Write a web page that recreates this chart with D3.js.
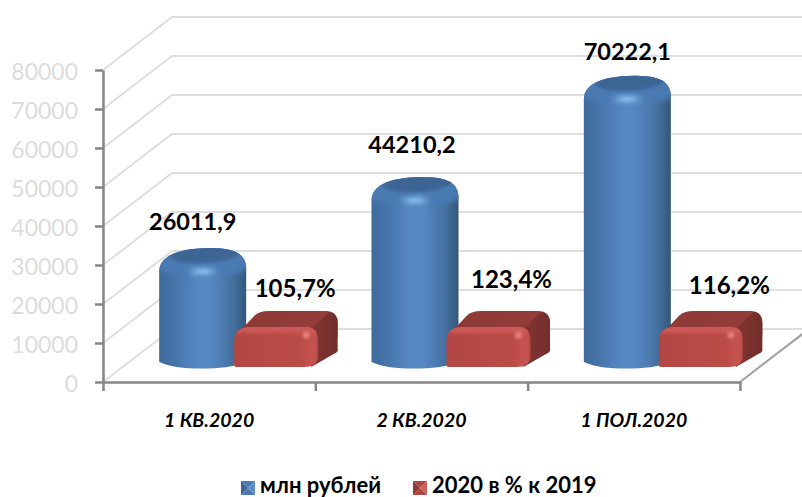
<!DOCTYPE html>
<html><head><meta charset="utf-8">
<script src="https://cdn.jsdelivr.net/npm/d3@7"></script>
<style>
html,body{margin:0;padding:0;background:#fff}
svg{display:block}
text{font-family:Lato,"Open Sans",sans-serif}
.domain{stroke:#868686;stroke-width:2.5px}
.tick line{stroke:#868686;stroke-width:2.5px}
</style></head><body><svg id="c" width="802" height="497"></svg>
<script>
const categories=["1 КВ.2020","2 КВ.2020","1 ПОЛ.2020"];
const rubles=[26011.9,44210.2,70222.1];
const rubleLabels=["26011,9","44210,2","70222,1"];
const percents=[105.7,123.4,116.2];
const percentLabels=["105,7%","123,4%","116,2%"];
const yTicks=[0,10000,20000,30000,40000,50000,60000,70000,80000];
const seriesNames=["млн рублей","2020 в % к 2019"];
// label nudges (manual layout in the original)
const rubleNudge=[[-10,-39],[-3,-45],[0,-36]];
const pctNudge=[[1,-38],[5,-47],[10.5,-41]];

const svg=d3.select("#c");
const W=802,x0=103,x1=740,depthX=69,depthY=-53;
const y=d3.scaleLinear().domain([0,80000]).range([382,70]);
const x=d3.scaleBand().domain(categories).range([x0,x1]);
const xEdges=d3.scaleLinear().domain([0,3]).range([x0,x1]);

const defs=svg.append("defs");
function lin(id,stops,o={x1:0,y1:0,x2:1,y2:0}){
  const g=defs.append("linearGradient").attr("id",id);
  Object.entries(o).forEach(([k,v])=>g.attr(k,v));
  stops.forEach(s=>g.append("stop").attr("offset",s[0]).attr("stop-color",s[1]));
}
lin("cyl",[[0,"#3f6a9c"],[.15,"#4573a8"],[.45,"#5688c4"],[.6,"#5688c4"],[.85,"#44709f"],[1,"#345679"]]);
lin("redF",[[0,"#b24644"],[.8,"#bb4b47"],[.9,"#c4524e"],[.96,"#c4524e"],[1,"#b34744"]]);
lin("redT",[[0,"#8c3936"],[1,"#953e3a"]]);
lin("redS",[[0,"#823532"],[1,"#722e2b"]]);
const b=defs.append("filter").attr("id","b2").attr("x","-30%").attr("y","-30%").attr("width","160%").attr("height","160%");
b.append("feGaussianBlur").attr("stdDeviation",2.5);
const b1=defs.append("filter").attr("id","b1").attr("x","-30%").attr("y","-60%").attr("width","160%").attr("height","220%");
b1.append("feGaussianBlur").attr("stdDeviation",1.6);
const b3=defs.append("filter").attr("id","b3").attr("x","-60%").attr("y","-150%").attr("width","220%").attr("height","400%");
b3.append("feGaussianBlur").attr("stdDeviation",3);

// walls: gridlines
const grid=svg.append("g");
yTicks.filter(d=>d>0).concat([0]).forEach(d=>{
  grid.append("path").attr("fill","none").attr("stroke","#dedede").attr("stroke-width",2)
   .attr("d",d3.line()([[x0,y(d)],[x0+depthX,y(d)+depthY],[W,y(d)+depthY]]));
});
svg.append("path").attr("fill","none").attr("stroke","#a0a0a0").attr("stroke-width",2)
  .attr("d",d3.line()([[x1,y(0)],[x1+depthX,y(0)+depthY]]));

// axes
const ga=svg.append("g").attr("transform",`translate(${x0},0)`)
  .call(d3.axisLeft(y).tickValues(yTicks).tickFormat(d3.format("d")).tickSize(8).tickPadding(17).tickSizeOuter(0));
ga.selectAll("text").attr("font-size",23).attr("fill","#dcdcdc").attr("dy","0.41em")
  .style("font-family","Lato,'Open Sans',sans-serif");
svg.append("g").attr("transform",`translate(0,${y(0)})`)
  .call(d3.axisBottom(xEdges).tickValues([0,1,2,3]).tickFormat("").tickSize(9).tickSizeOuter(0));

function cylinder(i){
  const cx=x(categories[i])+x.bandwidth()/2-6.5, rx=43.5;
  const bot=y(0)-20, top=bot-(y(0)-y(rubles[i]));
  const g=svg.append("g");
  const l=cx-rx,r=cx+rx;
  const id="cl"+i;
  const body=`M${l},${bot} L${l},${top+11} C${l},${top-3} ${cx-28},${top-12} ${cx+6},${top-12.5} C${cx+26},${top-12.5} ${r-1},${top-10} ${r},${top+7} L${r},${bot} C${r-12},${bot+5} ${cx+15},${bot+6.5} ${cx},${bot+6.5} C${cx-20},${bot+6.5} ${l+12},${bot+5} ${l},${bot} Z`;
  defs.append("clipPath").attr("id",id).append("path").attr("d",body);
  g.append("path").attr("d",body).attr("fill","url(#cyl)");
  const c=g.append("g").attr("clip-path",`url(#${id})`);
  c.append("ellipse").attr("cx",cx).attr("cy",top+2).attr("rx",rx+6).attr("ry",15).attr("fill","#4a7ab2").attr("filter","url(#b2)");
  c.append("ellipse").attr("cx",cx).attr("cy",top+11).attr("rx",14).attr("ry",3).attr("fill","#8cc2f4").attr("filter","url(#b3)");
  c.append("ellipse").attr("cx",cx).attr("cy",top+11).attr("rx",7).attr("ry",1.6).attr("fill","#86bcf0").attr("filter","url(#b1)");
  c.append("ellipse").attr("cx",cx+2).attr("cy",top-6).attr("rx",rx-9).attr("ry",8.5)
    .attr("transform",`rotate(-3 ${cx} ${top-6})`).attr("fill","#3c6594").attr("filter","url(#b1)");
}
function box(i){
  const cx=x(categories[i])+x.bandwidth()/2+67;
  const hw=42, bot=y(0)-15, top=y(percents[i])-54.6, rr=12;
  const l=cx-hw,r=cx+hw, dx=19.5, dy=-16;
  const g=svg.append("g");
  g.append("path").attr("fill","url(#redT)")
   .attr("d",`M${l+2},${top+8} L${l+21},${top+dy+4} Q${l+26},${top+dy} ${l+34},${top+dy} L${r+dx-12},${top+dy} Q${r+dx},${top+dy} ${r+dx},${top+dy+12} L${r+dx},${top+10} L${r},${top+12} L${l+2},${top+12} Z`);
  g.append("path").attr("fill","url(#redS)")
   .attr("d",`M${r-7},${top+2} L${r+dx-9},${top+dy+1} Q${r+dx},${top+dy+2} ${r+dx},${top+dy+12} L${r+dx},${bot+dy} Q${r+dx-1},${bot+dy+2} ${r+dx-4},${bot+dy+3} L${r-7},${bot} Z`);
  const id="bx"+i;
  const front=`M${l},${bot-2} L${l},${top+rr+2} Q${l},${top} ${l+rr+4},${top} L${r-rr},${top} Q${r},${top} ${r},${top+rr+2} L${r},${bot-10} Q${r-1},${bot} ${r-14},${bot} L${l+2},${bot} Q${l},${bot} ${l},${bot-2} Z`;
  defs.append("clipPath").attr("id",id).append("path").attr("d",front);
  g.append("path").attr("d",front).attr("fill","url(#redF)");
  const c=g.append("g").attr("clip-path",`url(#${id})`);
  c.append("rect").attr("x",l-4).attr("y",top-3).attr("width",hw*2+8).attr("height",9).attr("fill","#cb5954").attr("filter","url(#b1)");
  c.append("ellipse").attr("cx",r-12).attr("cy",top+8).attr("rx",3.5).attr("ry",3.5).attr("fill","#e8807a").attr("filter","url(#b1)");
}
d3.range(3).forEach(i=>{cylinder(i);box(i);});

const lab={"font-weight":700,"fill":"#000","text-anchor":"middle"};
function style(s,fs){Object.entries(lab).forEach(([k,v])=>s.attr(k,v));return s.attr("font-size",fs);}
rubleLabels.forEach((t,i)=>{
  const cx=x(categories[i])+x.bandwidth()/2-6.5, top=y(0)-20-(y(0)-y(rubles[i]));
  style(svg.append("text"),23.5).attr("x",cx+rubleNudge[i][0]).attr("y",top+rubleNudge[i][1]+8).text(t);
});
percentLabels.forEach((t,i)=>{
  const cx=x(categories[i])+x.bandwidth()/2+85, top=y(percents[i])-54.6;
  style(svg.append("text"),24).attr("x",cx+pctNudge[i][0]).attr("y",top+pctNudge[i][1]+8).text(t);
});
categories.forEach(c=>{
  svg.append("text").attr("x",x(c)+x.bandwidth()/2).attr("y",427).attr("text-anchor","middle")
   .attr("font-size",19.5).attr("font-weight",700).attr("font-style","italic").attr("fill","#000").text(c);
});
const keys=[{x:241,cols:["#5d8ec8","#3c6594","#2f5177","#4a79b0"],tx:260},{x:413,cols:["#cf5f5a","#8f3a37","#742d2b","#b04643"],tx:432}];
keys.forEach((k,i)=>{
  const g=svg.append("g").attr("transform",`translate(${k.x},481)`),s=14,m=s/2;
  [[[0,0],[s,0],[m,m]],[[s,0],[s,s],[m,m]],[[s,s],[0,s],[m,m]],[[0,s],[0,0],[m,m]]].forEach((p,j)=>{
    g.append("path").attr("d",d3.line()(p)+"Z").attr("fill",k.cols[[3,0,3,1][j]]);
  });
  svg.append("text").attr("x",k.tx).attr("y",492.5).attr("font-size",22).attr("font-weight",700).attr("fill","#000").text(seriesNames[i]);
});
</script></body></html>
